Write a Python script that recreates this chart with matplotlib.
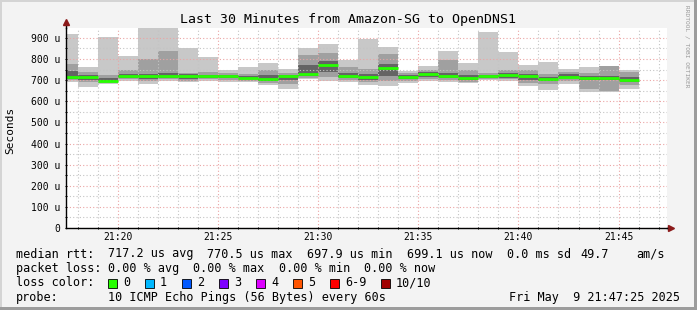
import numpy as np
import pandas as pd
import matplotlib
matplotlib.use("Agg")
import matplotlib.pyplot as plt
import matplotlib.dates as mdates
from matplotlib.patches import Rectangle
from matplotlib.ticker import MultipleLocator, FixedLocator, FuncFormatter

W, H = 697, 310
MONO = "DejaVu Sans Mono"

# one smoke column per minute, 21:17 .. 21:45 (values in microseconds)
start_times = pd.date_range("2025-05-09 21:17", periods=29, freq="min")
ping_max   = [919, 763, 905, 815, 960, 960, 853, 810, 748, 763, 783, 753, 850, 872, 796,
              895, 857, 744, 767, 838, 782, 928, 834, 772, 786, 751, 763, 767, 748]
smoke_hi   = [777, 741, 725, 750, 802, 838, 736, 741, 736, 729, 748, 735, 821, 829, 764,
              753, 824, 735, 749, 796, 748, 733, 748, 748, 730, 740, 733, 767, 738]
core_hi    = [745, 725, 712, 728, 730, 732, 728, 726, 726, 720, 725, 725, 774, 793, 735,
              730, 777, 725, 738, 735, 725, 726, 735, 730, 715, 728, 722, 722, 715]
median_rtt = [714, 714, 698, 718, 718, 722, 720, 718, 718, 711, 704, 718, 728, 770, 722,
              713, 756, 716, 729, 718, 709, 720, 726, 718, 704, 716, 711, 709, 699]
core_lo    = [705, 700, 694, 710, 705, 712, 705, 710, 708, 704, 695, 700, 718, 740, 712,
              703, 720, 705, 715, 710, 700, 712, 712, 700, 695, 708, 700, 700, 690]
smoke_lo   = [700, 690, 688, 704, 695, 705, 698, 704, 700, 698, 688, 680, 710, 715, 702,
              690, 695, 695, 705, 702, 692, 706, 705, 688, 680, 695, 660, 650, 675]
ping_min   = [692, 669, 681, 698, 684, 695, 690, 698, 692, 692, 679, 660, 704, 696, 692,
              675, 674, 685, 698, 692, 685, 701, 698, 674, 654, 681, 646, 646, 660]

y_ticks = [0, 100, 200, 300, 400, 500, 600, 700, 800, 900]

loss_labels = ["0", "1", "2", "3", "4", "5", "6-9", "10/10"]
loss_colors = ["#26ff00", "#00b8ff", "#0059ff", "#7e00ff", "#dd00ff", "#ff5500", "#ff0000", "#a10000"]

median_stats = [("median rtt:", 16), ("717.2 us avg", 108), ("770.5 us max", 207),
                ("697.9 us min", 307), ("699.1 us now", 407), ("0.0 ms sd", 507),
                ("49.7", 580), ("am/s", 636)]
loss_stats = [("packet loss:", 16), ("0.00 % avg", 108), ("0.00 % max", 193),
              ("0.00 % min", 279), ("0.00 % now", 364)]


def px(x, y):
    """pixel position (from top left) -> figure fraction"""
    return x / W, 1 - y / H


fig = plt.figure(figsize=(W / 100, H / 100), dpi=100, facecolor="#f3f3f3")
ax = fig.add_axes([66 / W, (H - 228) / H, 601 / W, 200 / H])
ax.set_facecolor("white")

x0 = mdates.date2num(start_times)
width = 1 / 1440

# smoke layers, lightest outside
lo, hi = np.array(ping_min), np.array(ping_max)
ax.bar(x0, hi - lo, bottom=lo, width=width, align="edge", color="#c8c8c8", linewidth=0, zorder=1)
lo, hi = np.array(smoke_lo), np.array(smoke_hi)
ax.bar(x0, hi - lo, bottom=lo, width=width, align="edge", color="#a0a0a0", linewidth=0, zorder=1.1)
lo, hi = np.array(core_lo), np.array(core_hi)
ax.bar(x0, hi - lo, bottom=lo, width=width, align="edge", color="#646464", linewidth=0, zorder=1.2)

# median, coloured by loss (all 0 here)
ax.hlines(median_rtt, x0, x0 + width, color=loss_colors[0], lw=2, zorder=4)

ax.set_xlim(mdates.date2num(pd.Timestamp("2025-05-09 21:17:25")),
            mdates.date2num(pd.Timestamp("2025-05-09 21:47:25")))
ax.set_ylim(0, 947)

ax.xaxis.set_major_locator(mdates.MinuteLocator(byminute=range(0, 60, 5)))
ax.xaxis.set_minor_locator(mdates.MinuteLocator())
ax.xaxis.set_major_formatter(mdates.DateFormatter("%H:%M"))
ax.yaxis.set_major_locator(FixedLocator(y_ticks))
ax.yaxis.set_minor_locator(MultipleLocator(50))
ax.yaxis.set_major_formatter(FuncFormatter(lambda v, p: "0" if v == 0 else f"{int(v)} u"))

ax.set_axisbelow(False)
ax.grid(True, which="minor", color="#c4c4c4", linestyle=(0, (1, 2)), linewidth=0.8, zorder=2)
ax.grid(True, which="major", color="#eba4a4", linestyle=(0, (1, 2)), linewidth=0.8, zorder=2)

ax.tick_params(which="both", labelsize=7, length=2, width=0.7, direction="inout")
ax.tick_params(axis="x", pad=2)
ax.tick_params(axis="y", pad=3)
ax.tick_params(which="minor", length=1)
for lab in ax.get_xticklabels() + ax.get_yticklabels():
    lab.set_fontfamily(MONO)

for s in ("top", "right"):
    ax.spines[s].set_visible(False)
for s in ("left", "bottom"):
    ax.spines[s].set_color("black")
    ax.spines[s].set_linewidth(1)
    ax.spines[s].set_zorder(5)

# axis arrows
ax.plot([0, 0], [1, 1.03], transform=ax.transAxes, color="black", lw=1, clip_on=False)
ax.plot([0], [1.03], marker="^", transform=ax.transAxes, color="#8b1a1a", ms=4.5, clip_on=False)
ax.plot([1, 1.006], [0, 0], transform=ax.transAxes, color="black", lw=1, clip_on=False)
ax.plot([1.006], [0], marker=">", transform=ax.transAxes, color="#8b1a1a", ms=4.5, clip_on=False)

fig.text(*px(348, 19.5), "Last 30 Minutes from Amazon-SG to OpenDNS1", ha="center", va="center",
         fontsize=9.5, family=MONO)
fig.text(*px(10.5, 130), "Seconds", rotation=90, ha="center", va="center", fontsize=8, family=MONO)
fig.text(*px(687, 5), "RRDTOOL / TOBI OETIKER", rotation=270, ha="center", va="top",
         fontsize=4.5, family=MONO, color="#999999")

for txt, x in median_stats:
    fig.text(*px(x, 254), txt, ha="left", va="center", fontsize=8.5, family=MONO)
for txt, x in loss_stats:
    fig.text(*px(x, 268.5), txt, ha="left", va="center", fontsize=8.5, family=MONO)

fig.text(*px(16, 283), "loss color:", ha="left", va="center", fontsize=8.5, family=MONO)
box_x = [108, 145, 182, 219, 256, 293, 330, 381]
for lab, col, bx in zip(loss_labels, loss_colors, box_x):
    fig.add_artist(Rectangle(px(bx, 287.5), 8.5 / W, 9 / H, transform=fig.transFigure,
                             facecolor=col, edgecolor="black", lw=0.6))
    fig.text(*px(bx + 15, 283), lab, ha="left", va="center", fontsize=8.5, family=MONO)

fig.text(*px(16, 297), "probe:", ha="left", va="center", fontsize=8.5, family=MONO)
fig.text(*px(108, 297), "10 ICMP Echo Pings (56 Bytes) every 60s", ha="left", va="center",
         fontsize=8.5, family=MONO)
fig.text(*px(680, 297), "Fri May  9 21:47:25 2025", ha="right", va="center", fontsize=8.5, family=MONO)

# 3d frame around the canvas
for (x, y, w, h, c) in [(0, 0, W, 2, "#d4d4d4"), (0, 0, 2, H, "#d4d4d4"),
                        (W - 3, 0, 3, H, "#9c9c9c"), (0, H - 3, W, 3, "#9c9c9c")]:
    fig.add_artist(Rectangle(px(x, y + h), w / W, h / H, transform=fig.transFigure,
                             facecolor=c, edgecolor="none"))

fig.savefig("out.png", dpi=100, facecolor=fig.get_facecolor())
